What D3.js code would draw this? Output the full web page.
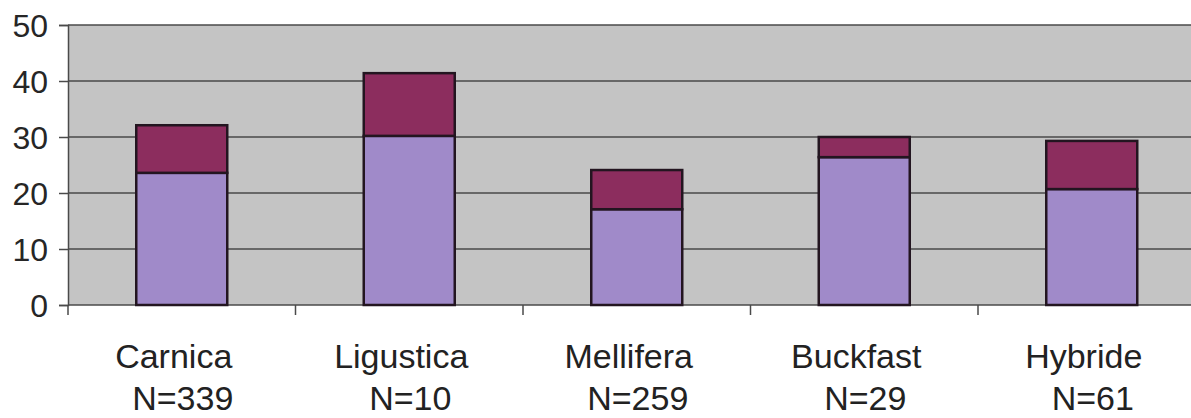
<!DOCTYPE html>
<html>
<head>
<meta charset="utf-8">
<script src="https://cdn.jsdelivr.net/npm/d3@7"></script>
<style>
  html, body { margin: 0; padding: 0; background: #ffffff; }
  svg { display: block; }
</style>
</head>
<body>
<svg id="chart" width="1191" height="418"></svg>
<script>
// Bee breeds and sample sizes
const categories = ["Carnica", "Ligustica", "Mellifera", "Buckfast", "Hybride"];
const sampleSizes = ["N=339", "N=10", "N=259", "N=29", "N=61"];
// Lower (lavender) and upper (maroon) segments of each stacked column
const lowerValues = [23.6, 30.2, 17.1, 26.4, 20.7];
const upperValues = [8.5, 11.2, 7.0, 3.6, 8.6];
const yTicks = [0, 10, 20, 30, 40, 50];

const svg = d3.select("#chart");
const plotLeft = 68, plotTop = 25, plotBottom = 305;
const bandW = 227.5;
const plotRight = plotLeft + bandW * categories.length;

const x = d3.scaleBand().domain(categories).range([plotLeft, plotRight]).paddingInner(0.6).paddingOuter(0.3);
const y = d3.scaleLinear().domain([0, 50]).range([plotBottom, plotTop]);

// plot area
svg.append("rect")
  .attr("x", plotLeft).attr("y", plotTop)
  .attr("width", plotRight - plotLeft).attr("height", plotBottom - plotTop)
  .attr("fill", "#c4c4c4");

// horizontal gridlines
svg.append("g").selectAll("line").data(yTicks.filter(d => d > 0)).join("line")
  .attr("x1", plotLeft).attr("x2", plotRight)
  .attr("y1", d => y(d)).attr("y2", d => y(d))
  .attr("stroke", "#4a4a4a").attr("stroke-width", 1.5);

// y axis
const yAxis = svg.append("g").attr("transform", `translate(${plotLeft},0)`)
  .call(d3.axisLeft(y).tickValues(yTicks).tickSize(9).tickPadding(11));
yAxis.select(".domain").attr("stroke", "#4a4a4a").attr("stroke-width", 1.5);
yAxis.selectAll(".tick line").attr("stroke", "#4a4a4a").attr("stroke-width", 1.5);
yAxis.selectAll(".tick text")
  .attr("font-family", "Liberation Sans, Arial, sans-serif")
  .attr("font-size", 32).attr("fill", "#262626")
  .attr("dy", "0.36em");

// x axis: line and boundary ticks between categories
const xg = svg.append("g");
xg.append("line").attr("x1", plotLeft).attr("x2", plotRight)
  .attr("y1", plotBottom).attr("y2", plotBottom)
  .attr("stroke", "#4a4a4a").attr("stroke-width", 1.5);
const bounds = d3.range(categories.length + 1).map(i => plotLeft + i * x.step());
xg.selectAll("line.tk").data(bounds).join("line").attr("class", "tk")
  .attr("x1", d => d).attr("x2", d => d)
  .attr("y1", plotBottom).attr("y2", plotBottom + 10)
  .attr("stroke", "#4a4a4a").attr("stroke-width", 1.5);

// stacked columns
const bars = svg.append("g");
categories.forEach((c, i) => {
  const lo = lowerValues[i], hi = upperValues[i];
  bars.append("rect")
    .attr("x", x(c)).attr("width", x.bandwidth())
    .attr("y", y(lo)).attr("height", y(0) - y(lo))
    .attr("fill", "#a08ac9").attr("stroke", "#231520").attr("stroke-width", 2.5);
  bars.append("rect")
    .attr("x", x(c)).attr("width", x.bandwidth())
    .attr("y", y(lo + hi)).attr("height", y(lo) - y(lo + hi))
    .attr("fill", "#8c2d5e").attr("stroke", "#231520").attr("stroke-width", 2.5);
});

// category labels (two lines; the name line sits slightly left of centre)
const lab = svg.append("g")
  .attr("font-family", "Liberation Sans, Arial, sans-serif")
  .attr("font-size", 34).attr("fill", "#222222").attr("text-anchor", "middle");
categories.forEach((c, i) => {
  const cx = x(c) + x.bandwidth() / 2;
  lab.append("text").attr("x", cx - 8).attr("y", 368).text(c);
  lab.append("text").attr("x", cx + 1).attr("y", 410).text(sampleSizes[i]);
});
</script>
</body>
</html>
